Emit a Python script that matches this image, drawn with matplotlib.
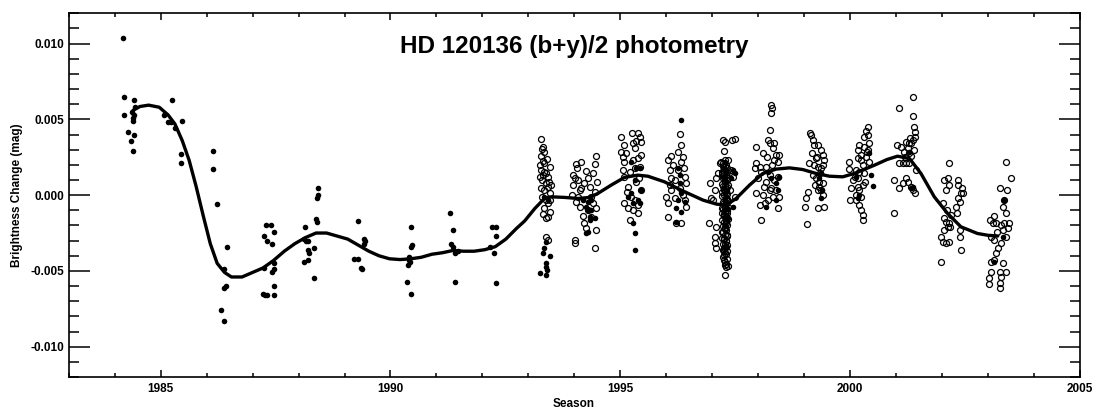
import matplotlib.pyplot as plt
import numpy as np
from matplotlib.ticker import MultipleLocator, FormatStrFormatter

plt.rcParams["font.family"] = ["Liberation Sans", "DejaVu Sans"]
plt.rcParams["font.weight"] = "bold"
plt.rcParams["axes.unicode_minus"] = False

# values are (season, brightness change in millimag)
filled_1984_1992 = [
    (1984.19, 10.4), (1984.21, 6.5), (1984.20, 5.3), (1984.30, 4.2), (1984.36, 3.6),
    (1984.39, 2.9), (1984.38, 5.5), (1984.39, 5.1), (1984.40, 4.9), (1984.43, 6.3),
    (1984.44, 5.8), (1984.43, 4.0), (1984.41, 5.3),
    (1985.25, 6.3), (1985.08, 5.3), (1985.16, 4.8), (1985.22, 4.8), (1985.31, 4.4),
    (1985.46, 4.9), (1985.44, 2.7), (1985.44, 2.1),
    (1986.15, 2.9), (1986.15, 1.7), (1986.23, -0.6), (1986.32, -7.6), (1986.37, -8.3),
    (1986.37, -4.9), (1986.37, -6.1), (1986.42, -6.0), (1986.45, -3.4),
    (1987.24, -2.7), (1987.30, -2.0), (1987.41, -2.0), (1987.47, -2.4), (1987.32, -3.0),
    (1987.43, -3.2), (1987.24, -4.8), (1987.23, -6.5), (1987.28, -6.6), (1987.32, -6.6),
    (1987.46, -6.6), (1987.46, -6.0), (1987.43, -5.1), (1987.46, -4.9), (1987.47, -4.5),
    (1988.14, -2.1), (1988.12, -2.9), (1988.16, -3.0), (1988.21, -3.0), (1988.20, -3.6),
    (1988.22, -3.8), (1988.12, -4.4), (1988.20, -4.3), (1988.34, -3.5), (1988.34, -5.5),
    (1988.42, 0.5), (1988.42, 0.0), (1988.41, -0.2), (1988.39, -1.6), (1988.41, -1.8),
    (1989.30, -1.7), (1989.21, -4.2), (1989.30, -4.2), (1989.36, -4.8), (1989.39, -4.9),
    (1989.43, -2.9), (1989.45, -3.0), (1989.42, -3.2),
    (1990.37, -5.7), (1990.39, -4.6), (1990.41, -4.1), (1990.43, -4.4), (1990.45, -3.4),
    (1990.47, -3.3), (1990.44, -2.1), (1990.44, -6.5), (1990.41, -4.3),
    (1991.29, -1.2), (1991.35, -2.3), (1991.32, -3.2), (1991.36, -3.4), (1991.41, -3.8),
    (1991.46, -3.7), (1991.41, -5.7),
    (1992.17, -3.4), (1992.21, -2.1), (1992.29, -2.1), (1992.26, -3.8), (1992.30, -2.7),
    (1992.30, -5.8),
]

filled_1993_2003 = [
    (1993.39, -3.08), (1993.35, -3.52), (1993.32, -3.85), (1993.46, -4.00), (1993.39, -4.51),
    (1993.38, -4.73), (1993.25, -5.17), (1993.38, -5.28), (1993.35, -0.11), (1993.43, -0.33),
    (1993.40, -4.95),
    (1994.33, -0.11), (1994.37, -0.33), (1994.30, -0.44), (1994.26, -0.77), (1994.37, -0.99),
    (1994.33, -1.43), (1994.30, -2.42), (1994.26, -2.53), (1994.44, -1.54), (1994.19, -0.33),
    (1994.29, -1.00), (1994.35, -1.65),
    (1995.24, 2.20), (1995.35, 1.76), (1995.42, 1.76), (1995.31, 0.99), (1995.46, 0.33),
    (1995.24, 0.11), (1995.38, -0.33), (1995.27, -1.87), (1995.31, -2.53), (1995.31, -3.63),
    (1995.42, -0.55), (1995.17, -0.11), (1995.27, -0.55),
    (1996.31, 4.99), (1996.25, 1.76), (1996.29, 0.77), (1996.33, 0.11), (1996.25, -0.33),
    (1996.22, -0.88), (1996.33, -1.10), (1996.22, -1.76), (1996.40, -0.44), (1996.29, 1.30),
    (1997.27, 2.2), (1997.30, 1.5), (1997.29, 0.9), (1997.32, 0.3), (1997.27, -0.2),
    (1997.30, -0.6), (1997.34, -0.9), (1997.29, -1.3), (1997.45, 1.65), (1997.49, 1.43),
    (1997.41, 1.10), (1997.45, -0.77), (1997.24, 1.8), (1997.26, 1.2), (1997.23, 0.5),
    (1997.28, -0.4), (1997.25, -1.0), (1997.31, -1.6), (1997.27, -2.0),
    (1998.17, -0.77), (1998.43, 0.33), (1998.39, 0.77), (1998.46, 1.21), (1998.28, 1.10),
    (1998.21, 1.54), (1998.39, -0.33),
    (1999.37, -0.22), (1999.39, 0.33), (1999.33, 1.10), (1999.37, 1.43),
    (2000.42, 2.75), (2000.46, 1.32), (2000.49, 0.59), (2000.17, -0.22), (2000.20, 0.00),
    (2000.13, 1.21),
    (2001.36, 0.55), (2001.33, 0.44), (2001.29, 2.86),
    (2003.14, -4.40), (2003.32, -2.75), (2003.35, -0.33),
]

open_1993 = [
    (1993.28, 3.70), (1993.32, 3.15), (1993.30, 3.06), (1993.35, 2.84), (1993.28, 2.57),
    (1993.32, 2.27), (1993.35, 2.09), (1993.28, 1.65), (1993.35, 1.54), (1993.39, 1.43),
    (1993.32, 1.32), (1993.43, 1.17), (1993.30, 0.99), (1993.39, 0.77), (1993.43, 0.55),
    (1993.35, 0.33), (1993.46, 0.11), (1993.30, -0.11), (1993.39, -0.29), (1993.43, -0.55),
    (1993.35, -0.88), (1993.46, -1.10), (1993.32, -1.25), (1993.43, -1.43), (1993.39, -1.54),
    (1993.38, -2.75), (1993.43, -2.97), (1993.46, 1.87), (1993.25, 1.98), (1993.50, 0.66),
    (1993.28, 0.44), (1993.46, -0.33), (1993.40, 2.40), (1993.26, 1.20), (1993.44, 0.90),
]
open_1994 = [
    (1994.04, 2.05), (1994.06, 1.76), (1994.01, 1.10), (1993.97, 0.66), (1994.12, 0.33),
    (1994.08, -0.11), (1994.12, -0.77), (1994.26, 1.58), (1994.30, 1.10), (1994.33, 0.55),
    (1994.44, 2.05), (1994.48, 2.57), (1994.50, 0.88), (1994.37, -0.11), (1994.41, -0.55),
    (1994.48, -0.88), (1994.22, -1.87), (1994.26, -2.20), (1994.48, -2.31), (1994.01, -2.93),
    (1994.01, -3.19), (1994.44, -3.52), (1994.19, -1.39), (1994.37, -1.43), (1993.97, 1.32),
    (1994.08, 0.99), (1994.15, 0.44), (1994.22, 0.77), (1994.41, 1.43), (1994.04, -0.44),
    (1994.30, -0.99), (1994.15, 2.20), (1993.95, 0.00), (1994.45, 0.22),
]
open_1995 = [
    (1995.02, 3.81), (1995.09, 3.30), (1995.25, 4.11), (1995.38, 4.11), (1995.42, 3.85),
    (1995.46, 3.52), (1995.35, 3.59), (1995.31, 3.08), (1995.27, 2.31), (1995.02, 2.86),
    (1995.06, 2.53), (1995.09, 2.20), (1995.38, 2.42), (1995.42, 1.87), (1995.20, 1.54),
    (1995.09, 1.21), (1995.17, 0.55), (1995.24, -0.11), (1995.31, -0.33), (1995.38, -0.66),
    (1995.17, -0.88), (1995.27, -0.99), (1995.38, -1.21), (1995.22, -1.65), (1995.09, -0.55),
    (1995.12, 2.75), (1995.28, 3.45), (1995.45, 2.64), (1995.33, 1.76), (1995.40, 1.10),
    (1995.05, 1.65), (1995.35, 0.88), (1995.14, 0.22), (1995.46, 0.33),
]
open_1996 = [
    (1996.04, 2.31), (1996.11, 2.57), (1996.29, 4.03), (1996.33, 3.30), (1996.36, 2.53),
    (1996.33, 2.20), (1996.07, 1.65), (1996.11, 1.10), (1996.25, 1.65), (1996.40, 1.21),
    (1996.43, 0.77), (1996.00, -0.11), (1996.04, -0.55), (1996.04, -1.43), (1996.11, 0.33),
    (1996.29, 0.44), (1996.43, -0.77), (1996.33, -1.83), (1996.22, -1.87), (1996.15, 1.98),
    (1996.20, 0.99), (1996.38, 1.76), (1996.18, -0.22), (1996.36, 0.00), (1996.08, 0.66),
    (1996.25, 2.86), (1996.40, -0.33),
]
open_1997 = [
    (1996.96, 0.81), (1996.98, -0.22), (1997.01, -0.33), (1997.09, 1.10), (1997.05, 0.33),
    (1996.94, -1.83), (1997.09, -2.09), (1997.05, -2.75), (1997.07, -3.19), (1997.09, -3.52),
    (1997.12, 1.43), (1997.16, 2.09), (1997.23, 3.63), (1997.27, 3.52), (1997.25, 2.90),
    (1997.34, 2.31), (1997.43, 3.63), (1997.49, 3.70), (1997.41, 1.65), (1997.45, 1.21),
    (1997.38, 0.33), (1997.49, -0.11),
    (1997.23, -3.63), (1997.25, -3.96), (1997.25, -4.29), (1997.27, -4.62), (1997.30, -4.73),
    (1997.34, -4.69), (1997.27, -5.28),
]
# the dense column of 1997 observations
column_1997 = [
    (1997.24, 2.1), (1997.28, 1.9), (1997.31, 1.8), (1997.26, 1.6), (1997.33, 1.5),
    (1997.29, 1.3), (1997.25, 1.2), (1997.31, 1.0), (1997.27, 0.9), (1997.34, 0.7),
    (1997.24, 0.6), (1997.30, 0.4), (1997.27, 0.3), (1997.33, 0.1), (1997.25, 0.0),
    (1997.29, -0.2), (1997.32, -0.3), (1997.26, -0.5), (1997.30, -0.6), (1997.34, -0.8),
    (1997.24, -0.9), (1997.28, -1.1), (1997.31, -1.2), (1997.26, -1.4), (1997.33, -1.5),
    (1997.29, -1.7), (1997.25, -1.8), (1997.31, -2.0), (1997.27, -2.1), (1997.30, -2.3),
    (1997.24, -2.4), (1997.28, -2.6), (1997.32, -2.7), (1997.26, -2.9), (1997.30, -3.0),
    (1997.27, -3.2), (1997.29, -3.4), (1997.25, -3.5), (1997.31, -3.7),
    (1997.27, 2.3), (1997.30, 2.0), (1997.22, 1.4), (1997.35, 1.1), (1997.28, 0.6),
    (1997.22, 0.2), (1997.35, -0.4), (1997.28, -0.8), (1997.22, -1.2), (1997.35, -1.6),
    (1997.28, -2.2), (1997.22, -2.8), (1997.33, -3.3), (1997.29, -3.9), (1997.31, -4.2),
    (1997.20, 2.2), (1997.23, 1.95), (1997.26, 1.75), (1997.21, 1.55), (1997.30, 1.35),
    (1997.24, 1.15), (1997.28, 0.95), (1997.21, 0.75), (1997.31, 0.55), (1997.25, 0.35),
    (1997.29, 0.15), (1997.21, -0.05), (1997.31, -0.25), (1997.24, -0.45), (1997.28, -0.65),
    (1997.21, -0.85), (1997.31, -1.05), (1997.25, -1.25), (1997.29, -1.45), (1997.22, -1.65),
    (1997.30, -1.85), (1997.24, -2.05), (1997.28, -2.25), (1997.21, -2.45), (1997.31, -2.65),
    (1997.25, -2.85), (1997.29, -3.05), (1997.23, -3.25), (1997.27, -3.45), (1997.25, -3.70),
    (1997.28, -3.85), (1997.24, -4.05), (1997.27, -4.40), (1997.29, -4.55),
]
open_1998 = [
    (1998.28, 5.94), (1998.30, 5.72), (1998.28, 5.39), (1998.25, 4.29), (1997.96, 3.19),
    (1998.21, 3.63), (1998.25, 3.41), (1998.35, 3.41), (1998.32, 3.08), (1998.39, 2.64),
    (1998.46, 2.64), (1997.96, 2.09), (1997.92, 1.76), (1998.03, 1.87), (1998.06, 1.54),
    (1998.17, 1.87), (1998.35, 2.31), (1998.43, 2.20), (1998.25, 1.32), (1998.17, 0.88),
    (1998.35, 0.99), (1998.28, 0.44), (1998.25, 0.33), (1998.39, 0.33), (1998.46, -0.11),
    (1997.96, 0.11), (1998.10, 0.00), (1998.32, -0.11), (1998.03, -0.66), (1998.14, -0.55),
    (1998.43, -0.88), (1998.06, -1.61), (1998.20, 2.53), (1998.10, 2.75), (1998.30, 1.98),
    (1998.42, 1.21), (1998.12, 0.55), (1998.00, 1.10), (1998.22, -0.33),
]
open_1999 = [
    (1999.12, 4.07), (1999.15, 3.96), (1999.19, 3.63), (1999.22, 3.30), (1999.30, 3.30),
    (1999.37, 2.97), (1999.41, 2.64), (1999.44, 2.31), (1999.26, 2.42), (1999.10, 2.13),
    (1999.22, 1.98), (1999.30, 1.87), (1999.37, 1.76), (1999.19, 1.32), (1999.26, 1.10),
    (1999.33, 0.88), (1999.41, 0.77), (1999.33, 0.55), (1999.37, 0.33), (1999.30, 0.33),
    (1999.41, 0.00), (1999.08, 0.22), (1999.04, -0.22), (1999.01, -0.77), (1999.30, -0.88),
    (1999.44, -0.77), (1999.06, -1.91), (1999.17, 2.75), (1999.28, 2.53), (1999.35, 1.43),
    (1999.24, 0.66), (1999.40, 1.98),
]
open_2000 = [
    (1999.97, 2.20), (2000.02, 0.44), (1999.99, -0.33), (1999.97, 1.72), (2000.06, 0.99),
    (2000.38, 4.51), (2000.35, 4.25), (2000.38, 3.96), (2000.31, 3.81), (2000.42, 3.45),
    (2000.20, 3.30), (2000.17, 3.01), (2000.31, 3.19), (2000.38, 2.97), (2000.24, 2.64),
    (2000.35, 2.53), (2000.42, 2.20), (2000.17, 2.42), (2000.24, 2.31), (2000.13, 1.65),
    (2000.20, 1.54), (2000.31, 1.43), (2000.17, 1.10), (2000.27, 0.66), (2000.17, 0.55),
    (2000.20, 0.33), (2000.24, -0.11), (2000.13, -0.33), (2000.20, -0.66), (2000.27, -1.32),
    (2000.27, -1.61), (2000.24, -0.99), (2000.28, 1.98), (2000.33, 0.88), (2000.10, 1.21),
    (2000.36, 2.86), (2000.12, 0.00),
]
open_2001 = [
    (2001.36, 6.45), (2001.06, 5.72), (2001.36, 5.21), (2001.38, 4.51), (2001.41, 4.18),
    (2001.40, 3.85), (2001.36, 3.63), (2001.33, 3.41), (2001.22, 3.52), (2001.29, 3.41),
    (2001.02, 3.30), (2001.11, 3.19), (2001.25, 3.08), (2001.18, 2.86), (2001.29, 2.75),
    (2001.33, 2.57), (2001.07, 2.13), (2001.14, 2.13), (2001.22, 2.13), (2001.29, 2.13),
    (2001.43, 1.65), (2000.95, 0.99), (2001.07, 0.44), (2001.14, 0.77), (2001.22, 1.10),
    (2001.25, 0.88), (2001.33, 0.55), (2001.36, 0.33), (2001.40, 0.11), (2000.95, -1.21),
    (2001.30, 3.80), (2001.20, 2.53), (2001.38, 2.97),
]
open_2002 = [
    (2002.14, 2.13), (2002.05, 1.03), (2002.12, 1.10), (2002.16, 0.66), (2002.09, 0.33),
    (2002.34, 0.99), (2002.35, 0.66), (2002.41, 0.11), (2002.45, 0.11), (2002.34, -0.22),
    (2002.38, -0.44), (2002.30, -0.77), (2002.11, -0.99), (2002.05, -1.54), (2002.09, -1.76),
    (2002.16, -1.87), (2002.12, -2.09), (2002.05, -2.31), (2002.18, -2.09), (2001.98, -2.75),
    (2002.01, -3.08), (2002.09, -3.19), (2002.16, -3.08), (2002.38, -2.31), (2002.40, -2.75),
    (2002.41, -3.63), (2001.98, -4.40), (2002.02, -0.50), (2002.20, -1.30), (2002.32, -1.20),
    (2002.44, 0.50),
]
open_2003 = [
    (2003.39, 2.20), (2003.49, 1.10), (2003.27, 0.44), (2003.41, 0.33), (2003.35, -0.33),
    (2003.32, -0.77), (2003.39, -1.21), (2003.05, -1.61), (2003.10, -1.87), (2003.17, -1.87),
    (2003.28, -1.98), (2003.35, -1.87), (2003.46, -1.83), (2003.32, -2.31), (2003.39, -2.75),
    (2003.06, -2.75), (2003.14, -2.97), (2003.28, -3.19), (2003.21, -3.52), (2003.17, -3.85),
    (2003.14, -4.29), (2003.06, -4.40), (2003.32, -4.51), (2003.25, -5.06), (2003.39, -5.06),
    (2003.06, -5.06), (2003.28, -5.39), (2003.03, -5.50), (2003.03, -5.87), (2003.25, -5.83),
    (2003.25, -6.12), (2003.20, -2.40), (2003.44, -2.20), (2003.12, -1.40),
]

# smooth fit through the seasonal means
fit_curve = [
    (1984.40, 5.6), (1984.55, 5.85), (1984.74, 5.94), (1984.97, 5.8), (1985.16, 5.3),
    (1985.31, 4.7), (1985.47, 3.6), (1985.62, 2.3), (1985.77, 0.6), (1985.93, -1.4),
    (1986.08, -3.2), (1986.23, -4.5), (1986.39, -5.1), (1986.54, -5.4), (1986.77, -5.4),
    (1987.00, -5.1), (1987.23, -4.8), (1987.46, -4.3), (1987.69, -3.7), (1987.92, -3.2),
    (1988.15, -2.8), (1988.38, -2.5), (1988.61, -2.5), (1988.84, -2.7), (1989.07, -2.9),
    (1989.30, -3.3), (1989.53, -3.7), (1989.75, -4.0), (1989.98, -4.2), (1990.21, -4.25),
    (1990.44, -4.2), (1990.67, -4.1), (1990.90, -3.9), (1991.13, -3.8), (1991.36, -3.65),
    (1991.59, -3.7), (1991.82, -3.7), (1992.05, -3.6), (1992.28, -3.4), (1992.51, -2.9),
    (1992.74, -2.2), (1992.92, -1.7), (1993.14, -0.88), (1993.35, -0.22), (1993.50, -0.11),
    (1993.79, -0.15), (1994.08, -0.22), (1994.33, -0.15), (1994.51, 0.11), (1994.80, 0.66),
    (1995.09, 1.17), (1995.38, 1.32), (1995.60, 1.25), (1995.96, 0.88), (1996.25, 0.44),
    (1996.51, 0.07), (1996.80, -0.33), (1997.09, -0.59), (1997.30, -0.66), (1997.52, -0.22),
    (1997.81, 0.66), (1998.10, 1.43), (1998.39, 1.72), (1998.68, 1.80), (1998.97, 1.69),
    (1999.26, 1.43), (1999.55, 1.25), (1999.84, 1.21), (2000.09, 1.43), (2000.31, 1.70),
    (2000.53, 1.98), (2000.80, 2.35), (2001.03, 2.57), (2001.29, 2.42), (2001.54, 1.43),
    (2001.83, -0.11), (2002.12, -1.21), (2002.41, -2.09), (2002.77, -2.53), (2003.00, -2.65),
    (2003.21, -2.70),
]

open_points = (open_1993 + open_1994 + open_1995 + open_1996 + open_1997 + column_1997
               + open_1998 + open_1999 + open_2000 + open_2001 + open_2002 + open_2003)
filled_points = filled_1984_1992 + filled_1993_2003

open_yr, open_mmag = np.array(open_points).T
filled_yr, filled_mmag = np.array(filled_points).T
fit_yr, fit_mmag = np.array(fit_curve).T

W, H = 1097, 412
fig = plt.figure(figsize=(W / 100, H / 100), dpi=100)
ax = fig.add_axes([68.7 / W, 1 - 377 / H, (1080 - 68.7) / W, (377 - 13.3) / H])

ax.plot(open_yr, open_mmag / 1000, "o", mfc="none", mec="black", ms=4.3, mew=0.9)
ax.plot(filled_yr, filled_mmag / 1000, "o", color="black", ms=4.0, mew=0)
ax.plot(fit_yr, fit_mmag / 1000, color="black", lw=2.4, solid_joinstyle="round",
        solid_capstyle="round")

ax.set_xlim(1983, 2005)
ax.set_ylim(-0.012, 0.012)
ax.xaxis.set_major_locator(MultipleLocator(5))
ax.xaxis.set_minor_locator(MultipleLocator(1))
ax.yaxis.set_major_locator(MultipleLocator(0.005))
ax.yaxis.set_minor_locator(MultipleLocator(0.001))
ax.yaxis.set_major_formatter(FormatStrFormatter("%.3f"))
ax.xaxis.set_major_formatter(FormatStrFormatter("%d"))

for s in ax.spines.values():
    s.set_linewidth(1.2)
ax.tick_params(which="both", direction="in", top=True, right=True, width=1.1)
ax.tick_params(axis="x", which="major", length=5, pad=4, labelsize=8.5)
ax.tick_params(axis="x", which="minor", length=3)
ax.tick_params(axis="y", which="major", length=15, pad=3, labelsize=8.5)
ax.tick_params(axis="y", which="minor", length=7.5)

ax.text(0.5, 0.891, "HD 120136 (b+y)/2 photometry", transform=ax.transAxes,
        ha="center", va="baseline", fontsize=17.5, fontweight="bold")
fig.text(574 / W, 1 - 404 / H, "Season", ha="center", va="center", fontsize=8.5)
fig.text(17 / W, 1 - 195 / H, "Brightness Change (mag)", rotation=90,
         ha="center", va="center", fontsize=8.5)

fig.savefig("out.png", dpi=100)
